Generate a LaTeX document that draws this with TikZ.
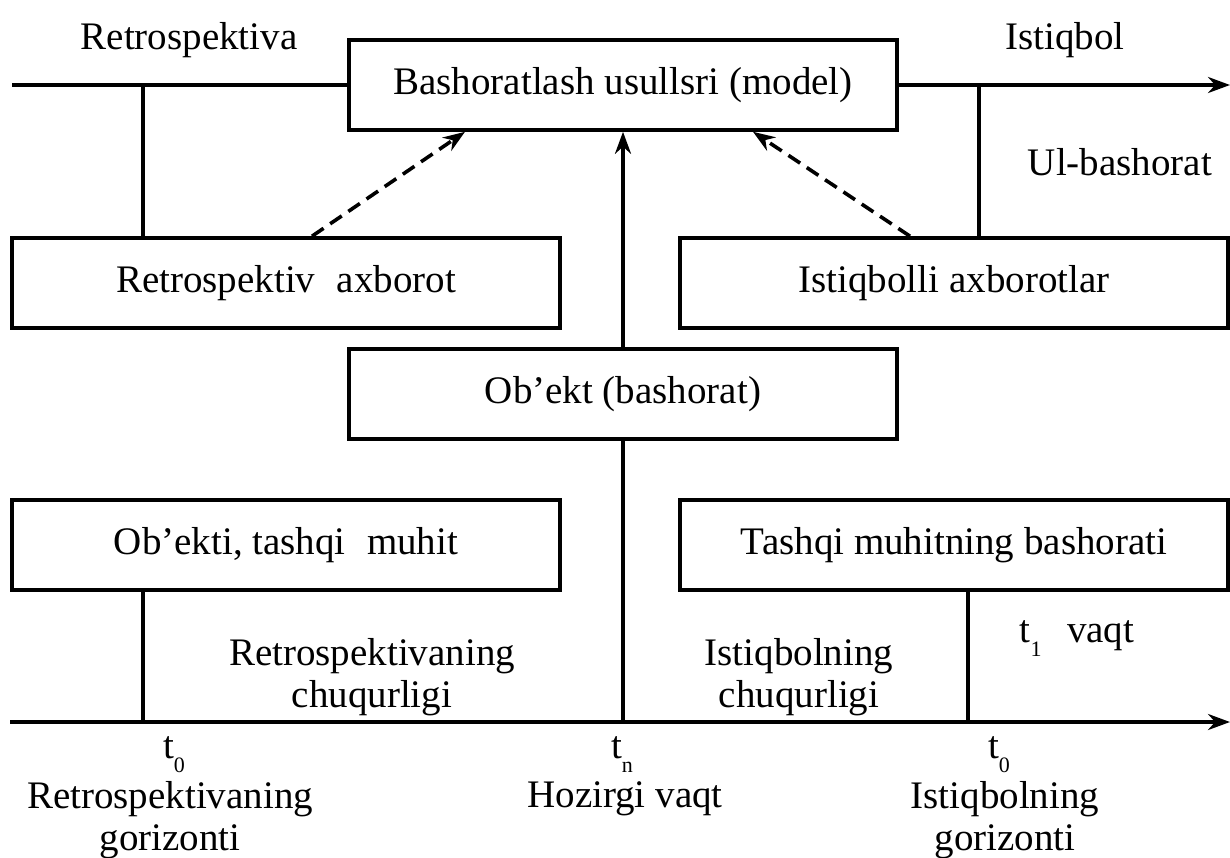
\documentclass[tikz,border=0pt]{standalone}
\usepackage{fontspec}
\setmainfont{Liberation Serif}
\usetikzlibrary{arrows.meta, positioning}
\newcommand{\matn}{\fontsize{19.5}{21}\selectfont}
\newcommand{\tind}[1]{t\raisebox{-7pt}{\fontsize{11}{11}\selectfont #1}}

\begin{document}
\begin{tikzpicture}[x=0.5pt, y=-0.5pt,
  blok/.style={draw, line width=1.8pt, minimum width=274pt, minimum height=45pt, inner sep=0pt, font=\matn},
  chiziq/.style={line width=1.8pt},
  strelka/.style={line width=1.8pt, -{Stealth[length=11pt, width=8pt]}},
  uzuq/.style={line width=1.8pt, dash pattern=on 7pt off 4pt, -{Stealth[length=11pt, width=8pt]}},
  yozuv/.style={font=\matn, align=center, inner sep=0pt}]
  \useasboundingbox (0,0) rectangle (1230,857);

  % ===== yuqori qism: model =====
  \node[blok] (model) at (623,85) {Bashoratlash usullsri (model)};
  \coordinate (chap) at (12,85);
  \coordinate (ong) at (1230,85);
  \draw[chiziq] (chap) -- (model.west);
  \draw[strelka] (model.east) -- (ong);
  \node[yozuv] (retro) at (189,40) {Retrospektiva};
  \node[yozuv] (istiq) at (1065,40) {Istiqbol};
  \node[yozuv] (ulbash) at (1120,162) {Ul-bashorat};

  % axborot bloklari
  \node[blok] (retax) at (286,283) {Retrospektiv\hspace{0.3em} axborot};
  \node[blok] (istax) at (954,283) {Istiqbolli axborotlar};
  \coordinate (vchap) at (143,85);
  \coordinate (vong) at (979,85);
  \draw[chiziq] (vchap) -- (vchap |- retax.north);
  \draw[chiziq] (vong) -- (vong |- istax.north);
  \draw[uzuq] ([xshift=13pt]retax.north) -- ([xshift=-79pt]model.south);
  \draw[uzuq] ([xshift=-22pt]istax.north) -- ([xshift=65pt]model.south);

  % ===== ob'ekt =====
  \node[blok] (obekt) at (623,394) {Ob'ekt (bashorat)};
  \draw[strelka] (obekt.north) -- (model.south);

  % ===== pastki qism =====
  \node[blok] (muhit) at (286,545) {Ob'ekti, tashqi\hspace{0.3em} muhit};
  \node[blok] (muhbash) at (954,545) {Tashqi muhitning bashorati};

  % vaqt o'qi
  \coordinate (ochap) at (10,722);
  \coordinate (oong) at (1230,722);
  \coordinate (tnol) at (143,722);
  \coordinate (tn) at (623,722);
  \coordinate (tnolb) at (968,722);
  \draw[strelka] (ochap) -- (oong);
  \draw[chiziq] (tnol |- muhit.south) -- (tnol);
  \draw[chiziq] (obekt.south) -- (tn);
  \draw[chiziq] (tnolb |- muhbash.south) -- (tnolb);

  \node[yozuv] (retchuq) at (372,677) {Retrospektivaning\\chuqurligi};
  \node[yozuv] (istchuq) at (799,677) {Istiqbolning\\chuqurligi};
  \node[yozuv] (tbir) at (1077,639) {\tind{1}\hspace{0.4em} vaqt};

  % o'q ostidagi yozuvlar
  \node[yozuv] (tl) at (174,755) {\tind{0}};
  \node[yozuv] (tm) at (622,755) {\tind{n}};
  \node[yozuv] (tr) at (999,755) {\tind{0}};
  \node[yozuv, anchor=north] (retgor) at (170,781) {Retrospektivaning\\gorizonti};
  \node[yozuv, anchor=north] (hozir) at (625,781) {Hozirgi vaqt};
  \node[yozuv, anchor=north] (istgor) at (1005,781) {Istiqbolning\\gorizonti};
\end{tikzpicture}
\end{document}
